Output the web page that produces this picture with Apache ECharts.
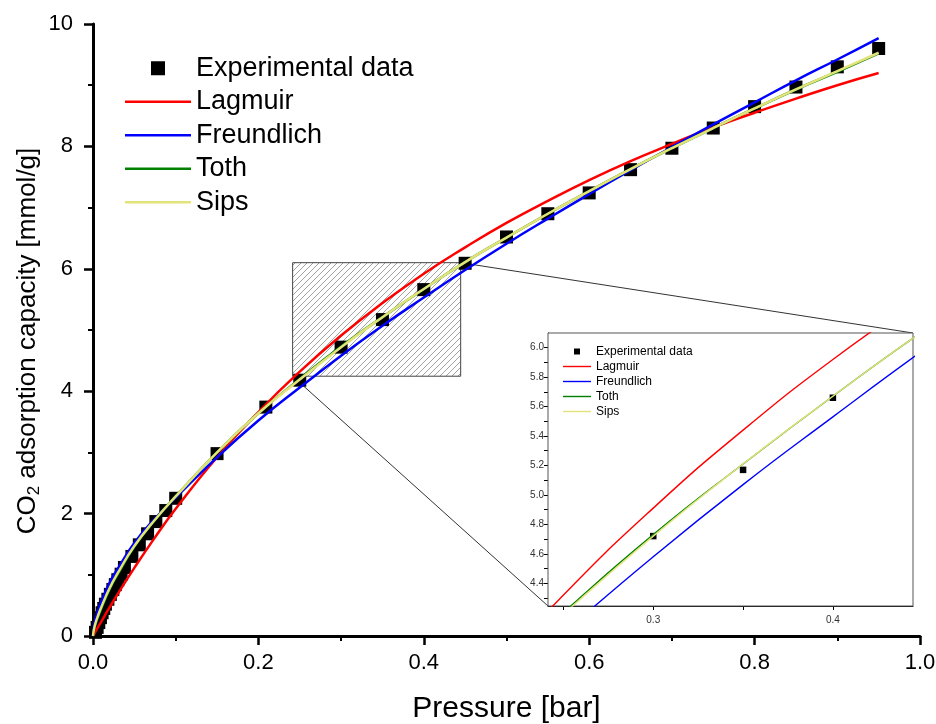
<!DOCTYPE html>
<html>
<head>
<meta charset="utf-8">
<script src="https://cdn.jsdelivr.net/npm/echarts@6/dist/echarts.min.js"></script>
<style>
  html, body { margin: 0; padding: 0; background: #fff; }
  #chart { width: 936px; height: 724px; }
</style>
</head>
<body>
<div id="chart"></div>
<script>
// Measured CO2 uptake (bar, mmol/g)
const expPressure = [0.003, 0.005, 0.007, 0.009, 0.011, 0.013, 0.015, 0.018, 0.021, 0.024, 0.027, 0.030, 0.034, 0.038,
  0.047, 0.056, 0.066, 0.076, 0.088, 0.100, 0.150, 0.209, 0.250, 0.300, 0.350, 0.400, 0.450, 0.500, 0.550,
  0.600, 0.650, 0.700, 0.750, 0.800, 0.850, 0.900, 0.950];
const expUptake = [0.06, 0.14, 0.22, 0.30, 0.38, 0.45, 0.52, 0.60, 0.68, 0.76, 0.84, 0.92, 1.01, 1.12,
  1.30, 1.49, 1.67, 1.87, 2.05, 2.25, 2.98, 3.74, 4.18, 4.72, 5.17, 5.66, 6.09, 6.52, 6.90,
  7.24, 7.62, 7.97, 8.30, 8.65, 8.97, 9.30, 9.60];

// Isotherm model curves sampled at these pressures
const fitPressure = [0, 0.001, 0.003, 0.006, 0.01, 0.02, 0.03, 0.05, 0.075, 0.1, 0.15, 0.2, 0.25, 0.3,
  0.35, 0.4, 0.45, 0.5, 0.55, 0.6, 0.65, 0.7, 0.75, 0.8, 0.85, 0.9, 0.95];
const langmuir = [0, 0.024, 0.072, 0.143, 0.236, 0.466, 0.688, 1.114, 1.612, 2.078, 2.92, 3.66, 4.32, 4.91,
  5.44, 5.92, 6.35, 6.75, 7.11, 7.45, 7.76, 8.04, 8.31, 8.55, 8.78, 9.00, 9.20];
const freundlich = [0, 0.15, 0.28, 0.42, 0.56, 0.87, 1.10, 1.52, 1.92, 2.26, 2.92, 3.52, 4.06, 4.58,
  5.07, 5.53, 5.98, 6.41, 6.82, 7.22, 7.61, 7.99, 8.36, 8.72, 9.08, 9.42, 9.77];
const toth = [0, 0.09, 0.19, 0.31, 0.45, 0.76, 1.01, 1.46, 1.90, 2.28, 3.00, 3.64, 4.20, 4.73,
  5.21, 5.67, 6.11, 6.51, 6.90, 7.27, 7.63, 7.97, 8.30, 8.62, 8.93, 9.22, 9.52];
const sips = [0, 0.10, 0.21, 0.33, 0.47, 0.78, 1.03, 1.47, 1.90, 2.28, 3.00, 3.64, 4.19, 4.72,
  5.21, 5.67, 6.11, 6.51, 6.90, 7.27, 7.63, 7.97, 8.30, 8.62, 8.93, 9.23, 9.53];

// Magnified window
const zoomX = [0.2414, 0.4446];
const zoomY = [4.245, 6.10];
const insetXTicks = [0.25, 0.3, 0.35, 0.4];
const insetXLabels = [0.3, 0.4];
const insetYTicks = [4.3, 4.4, 4.5, 4.6, 4.7, 4.8, 4.9, 5.0, 5.1, 5.2, 5.3, 5.4, 5.5, 5.6, 5.7, 5.8, 5.9, 6.0];
const insetYLabels = [4.4, 4.6, 4.8, 5.0, 5.2, 5.4, 5.6, 5.8, 6.0];

const seriesNames = ['Experimental data', 'Lagmuir', 'Freundlich', 'Toth', 'Sips'];
const lineColors = { 'Lagmuir': '#ff0000', 'Freundlich': '#0000ff', 'Toth': '#008000', 'Sips': '#e3e37a' };
const lineValues = { 'Lagmuir': langmuir, 'Freundlich': freundlich, 'Toth': toth, 'Sips': sips };

const FONT = '"Liberation Sans", Arial, sans-serif';

function pairs(xs, ys) { return xs.map((x, i) => [x, ys[i]]); }

// diagonal hatch fill for the magnified region
const hatch = document.createElement('canvas');
hatch.width = 6; hatch.height = 6;
(function () {
  const c = hatch.getContext('2d');
  c.strokeStyle = '#8a8a8a';
  c.lineWidth = 0.8;
  c.beginPath();
  c.moveTo(0, 6); c.lineTo(6, 0);
  c.moveTo(-1, 1); c.lineTo(1, -1);
  c.moveTo(5, 7); c.lineTo(7, 5);
  c.stroke();
})();

const chart = echarts.init(document.getElementById('chart'), null, { renderer: 'canvas' });

function fitSeries(name, grid, width) {
  return {
    name: name, type: 'line', xAxisIndex: grid, yAxisIndex: grid,
    data: pairs(fitPressure, lineValues[name]),
    smooth: 0.5, symbol: 'none', showSymbol: false,
    lineStyle: { color: lineColors[name], width: width },
    itemStyle: { color: lineColors[name] },
    clip: true, z: 3
  };
}

const series = [
  {
    name: 'Experimental data', type: 'scatter', xAxisIndex: 0, yAxisIndex: 0,
    data: pairs(expPressure, expUptake), symbol: 'rect', symbolSize: 13,
    itemStyle: { color: '#000', opacity: 1 }, z: 2,
    markArea: {
      silent: true,
      label: { show: false },
      itemStyle: { color: { image: hatch, repeat: 'repeat' }, borderColor: '#444', borderWidth: 1, opacity: 1 },
      data: [[{ coord: [zoomX[0], zoomY[0]] }, { coord: [zoomX[1], zoomY[1]] }]]
    }
  },
  fitSeries('Lagmuir', 0, 2.5),
  fitSeries('Freundlich', 0, 2.5),
  fitSeries('Toth', 0, 2.5),
  fitSeries('Sips', 0, 2.5),
  {
    name: 'Experimental data', type: 'scatter', xAxisIndex: 1, yAxisIndex: 1,
    data: pairs(expPressure, expUptake), symbol: 'rect', symbolSize: 6.5,
    itemStyle: { color: '#000', opacity: 1 }, clip: true, z: 2
  },
  fitSeries('Lagmuir', 1, 1.4),
  fitSeries('Freundlich', 1, 1.4),
  fitSeries('Toth', 1, 1.4),
  fitSeries('Sips', 1, 1.4)
];

// square marker for the data, flat stroke for the model curves
function legendData(lineIcon) {
  return seriesNames.map(n => n === 'Experimental data'
    ? { name: n, icon: 'path://M0 0H10V10H0Z' }
    : { name: n, icon: lineIcon });
}

const option = {
  animation: false,
  backgroundColor: '#fff',
  grid: [
    { left: 93, top: 24, width: 827, height: 612, show: false, outerBoundsMode: 'none', containLabel: false },
    { left: 548, top: 333, width: 365, height: 273, show: true, backgroundColor: '#fff', borderColor: '#555', borderWidth: 1, z: 1, outerBoundsMode: 'none', containLabel: false }
  ],
  legend: [
    {
      orient: 'vertical', left: 125, top: 54, padding: 0, itemWidth: 66, itemHeight: 14, itemGap: 5,
      selectedMode: false, data: legendData('path://M0 0H66V2.5H0Z'),
      textStyle: { fontSize: 27, fontFamily: FONT, color: '#000', lineHeight: 28.5 }
    },
    {
      orient: 'vertical', left: 563, top: 345, padding: 0, itemWidth: 28, itemHeight: 6, itemGap: 2,
      selectedMode: false, data: legendData('path://M0 0H28V1.4H0Z'),
      textStyle: { fontSize: 12, fontFamily: FONT, color: '#000', lineHeight: 13 }
    }
  ],
  xAxis: [
    {
      gridIndex: 0, type: 'value', min: 0, max: 1, interval: 0.2,
      name: 'Pressure [bar]', nameLocation: 'middle', nameGap: 58,
      nameTextStyle: { fontSize: 30, fontFamily: FONT, color: '#000' },
      axisLine: { show: true, onZero: false, lineStyle: { color: '#000', width: 3 } },
      axisTick: { show: true, length: 9, lineStyle: { color: '#000', width: 2.5 } },
      minorTick: { show: true, splitNumber: 2, length: 5, lineStyle: { color: '#000', width: 2 } },
      axisLabel: { fontSize: 22, fontFamily: FONT, color: '#000', margin: 16, formatter: v => v.toFixed(1) },
      splitLine: { show: false }
    },
    {
      gridIndex: 1, type: 'value', min: zoomX[0], max: zoomX[1],
      axisLine: { show: true, onZero: false, lineStyle: { color: '#000', width: 1 } },
      axisTick: { show: true, length: 4, customValues: insetXTicks, lineStyle: { color: '#000', width: 1 } },
      axisLabel: { fontSize: 10, fontFamily: FONT, color: '#333', margin: 9, customValues: insetXLabels, formatter: v => v.toFixed(1) },
      splitLine: { show: false }
    }
  ],
  yAxis: [
    {
      gridIndex: 0, type: 'value', min: 0, max: 10, interval: 2,
      name: '{t|CO}{s|2}{t| adsorption capacity [mmol/g]}', nameLocation: 'middle', nameGap: 50,
      nameMoveOverlap: false,
      nameTextStyle: {
        fontSize: 26, fontFamily: FONT, color: '#000', padding: [0, 22, 0, 0],
        rich: {
          t: { fontSize: 26, fontFamily: FONT, color: '#000' },
          s: { fontSize: 17, fontFamily: FONT, color: '#000', padding: [14, 0, 0, 0] }
        }
      },
      axisLine: { show: true, onZero: false, lineStyle: { color: '#000', width: 3 } },
      axisTick: { show: true, length: 9, lineStyle: { color: '#000', width: 2.5 } },
      minorTick: { show: true, splitNumber: 2, length: 5, lineStyle: { color: '#000', width: 2 } },
      axisLabel: { fontSize: 22, fontFamily: FONT, color: '#000', margin: 20 },
      splitLine: { show: false }
    },
    {
      gridIndex: 1, type: 'value', min: zoomY[0], max: zoomY[1],
      axisLine: { show: true, onZero: false, lineStyle: { color: '#000', width: 1 } },
      axisTick: { show: true, length: 4, customValues: insetYTicks, lineStyle: { color: '#000', width: 1 } },
      axisLabel: { fontSize: 10, fontFamily: FONT, color: '#333', margin: 4, customValues: insetYLabels, formatter: v => v.toFixed(1) },
      splitLine: { show: false }
    }
  ],
  series: series
};

chart.setOption(option);

// connector lines from the hatched window to the magnified panel
const a1 = chart.convertToPixel({ gridIndex: 0 }, [zoomX[1], zoomY[1]]);
const b1 = chart.convertToPixel({ gridIndex: 1 }, [zoomX[1], zoomY[1]]);
const a2 = chart.convertToPixel({ gridIndex: 0 }, [zoomX[0], zoomY[0]]);
const b2 = chart.convertToPixel({ gridIndex: 1 }, [zoomX[0], zoomY[0]]);
chart.setOption({
  graphic: [
    { type: 'line', z: 0, shape: { x1: a1[0], y1: a1[1], x2: b1[0], y2: b1[1] }, style: { stroke: '#333', lineWidth: 1 } },
    { type: 'line', z: 0, shape: { x1: a2[0], y1: a2[1], x2: b2[0], y2: b2[1] }, style: { stroke: '#333', lineWidth: 1 } }
  ]
});
</script>
</body>
</html>
